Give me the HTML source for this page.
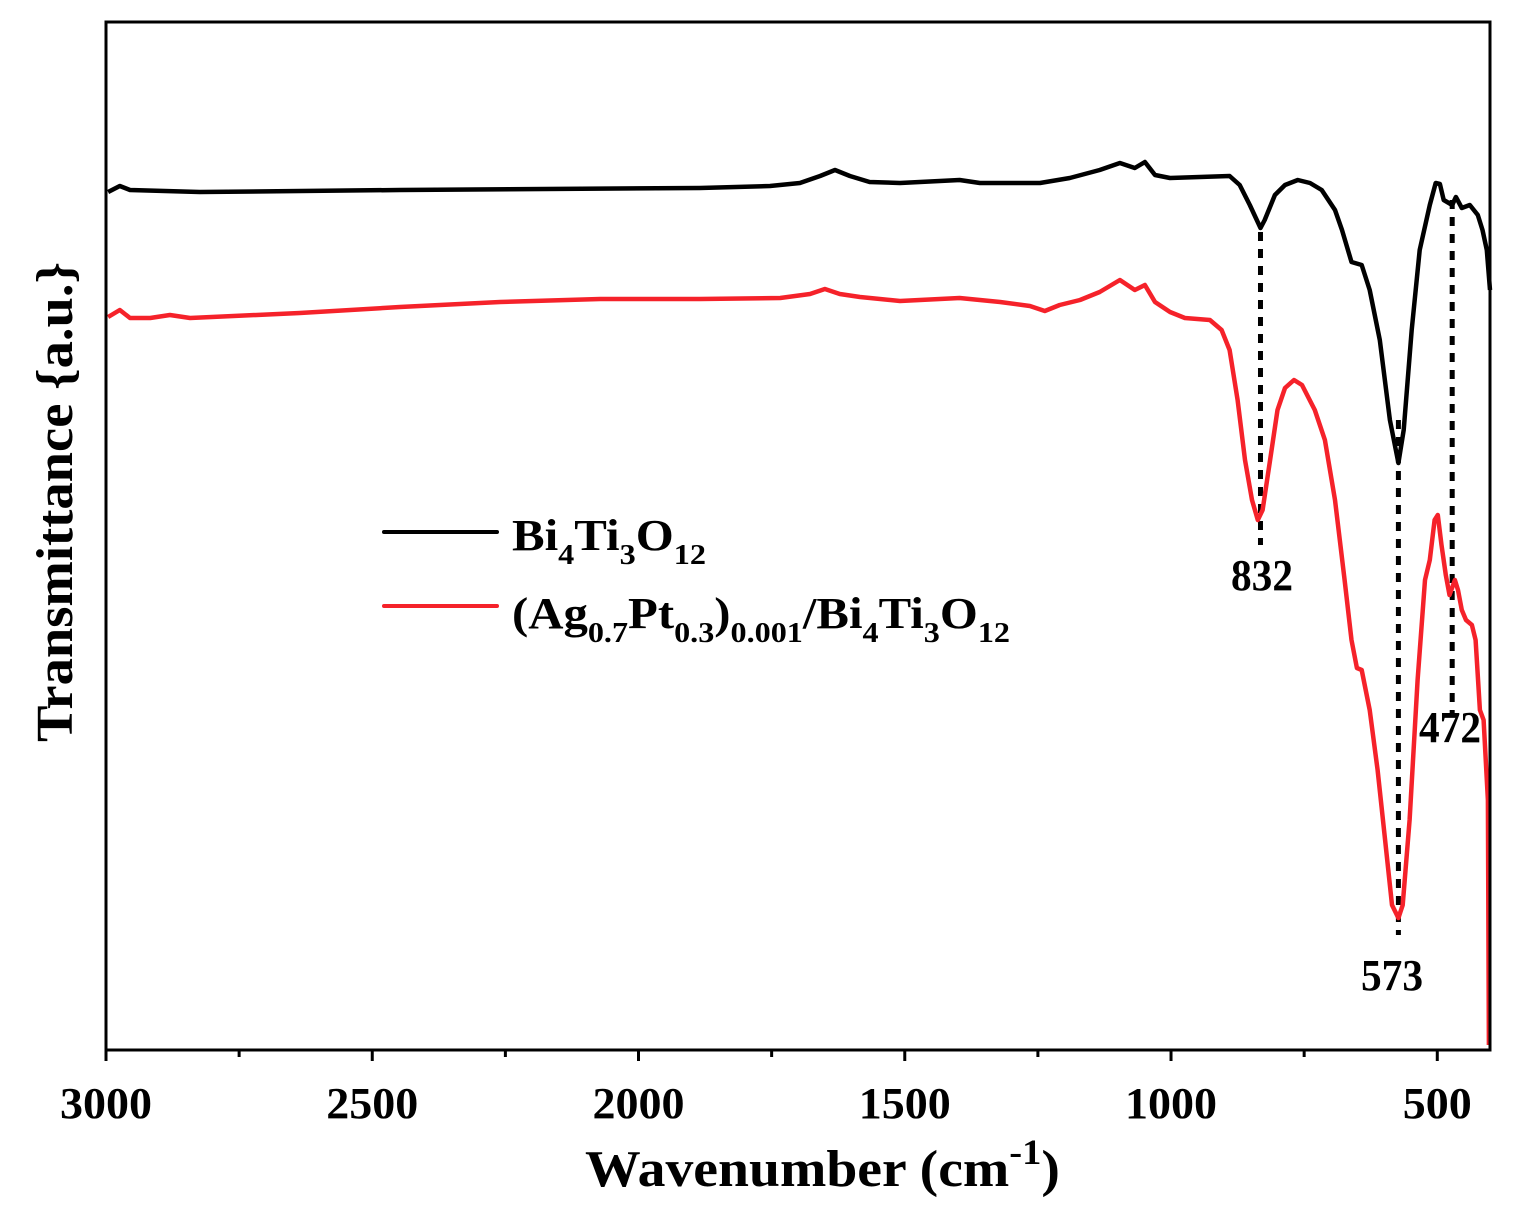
<!DOCTYPE html>
<html><head><meta charset="utf-8"><style>
html,body{margin:0;padding:0;background:#fff;}
svg{display:block;font-family:"Liberation Serif",serif;font-weight:bold;}
</style></head><body>
<svg id="chart" width="1513" height="1216" viewBox="0 0 1513 1216">
<rect x="0" y="0" width="1513" height="1216" fill="#fff"/>
<g id="plot"></g>
<g id="axes"></g>
<g>
 <line x1="384" y1="532" x2="497" y2="532" stroke="#000" stroke-width="4" stroke-linecap="round"/>
 <text x="512" y="550" font-size="44" textLength="194" lengthAdjust="spacingAndGlyphs">Bi<tspan font-size="29" dy="14">4</tspan><tspan dy="-14">Ti</tspan><tspan font-size="29" dy="14">3</tspan><tspan dy="-14">O</tspan><tspan font-size="29" dy="14">12</tspan></text>
 <line x1="384" y1="606" x2="497" y2="606" stroke="#f5222a" stroke-width="4" stroke-linecap="round"/>
 <text x="512" y="628" font-size="44" textLength="498" lengthAdjust="spacingAndGlyphs">(Ag<tspan font-size="29" dy="14">0.7</tspan><tspan dy="-14">Pt</tspan><tspan font-size="29" dy="14">0.3</tspan><tspan dy="-14">)</tspan><tspan font-size="29" dy="14">0.001</tspan><tspan dy="-14">/Bi</tspan><tspan font-size="29" dy="14">4</tspan><tspan dy="-14">Ti</tspan><tspan font-size="29" dy="14">3</tspan><tspan dy="-14">O</tspan><tspan font-size="29" dy="14">12</tspan></text>
</g>
<text x="585" y="1186" font-size="52" textLength="475" lengthAdjust="spacingAndGlyphs">Wavenumber (cm<tspan font-size="36" dy="-22">-1</tspan><tspan dy="22">)</tspan></text>
<text transform="translate(72,742) rotate(-90)" font-size="52" textLength="480" lengthAdjust="spacingAndGlyphs">Transmittance {a.u.}</text>
<script>
const xTicks=[3000,2500,2000,1500,1000,500];
const xMinor=[2750,2250,1750,1250,750];
const bW=[2996,2974,2955,2824,2448,1885,1753,1697,1659,1631,1603,1566,1509,1397,1359,1246,1190,1134,1096,1068,1049,1030,1002,946,890,871,852,832,824,805,786,762,739,717,692,679,661,642,627,608,589,573,563,548,533,514,503,495,488,472,465,454,439,424,415,407,401];
const bT=[858,864,860,858,860,862,864,867,874,880,874,868,867,870,867,867,872,880,887,882,888,875,872,873,874,865,845,822,830,855,865,870,867,860,840,820,788,785,760,710,630,587,620,720,800,845,867,866,850,845,853,842,845,835,820,800,760];
const rW=[2996,2974,2955,2917,2880,2842,2636,2448,2260,2072,1885,1734,1678,1650,1622,1584,1509,1397,1321,1265,1237,1209,1171,1134,1096,1068,1049,1030,1002,974,927,905,890,875,861,848,837,828,814,800,786,769,754,730,711,692,674,661,651,642,627,612,598,585,573,565,552,537,523,514,505,499,492,484,477,467,461,454,446,435,428,420,413,405,403];
const rT=[733,740,732,732,735,732,737,743,748,751,751,752,756,761,756,753,749,752,748,744,739,745,750,758,770,760,765,748,738,732,730,720,700,650,590,550,530,540,590,640,662,670,665,640,610,550,470,410,382,380,340,280,210,145,132,145,230,370,470,490,530,535,505,475,455,470,460,440,430,425,410,340,330,250,5];
const peaks=[832,573,472];
const peakTop=[818,630,850];
const peakBot=[505,115,335];
const x0=3000,x1=401,PL=106,PR=1490,PT=22,PB=1050;
function X(w){return PL+(x0-w)/(x0-x1)*(PR-PL);}
function Y(v){return PB-v;}
const NS="http://www.w3.org/2000/svg";
const plot=document.getElementById('plot'),axes=document.getElementById('axes');
function mk(tag,attrs,parent){const e=document.createElementNS(NS,tag);for(const k in attrs)e.setAttribute(k,attrs[k]);parent.appendChild(e);return e;}
peaks.forEach((p,i)=>{
 const l=mk('line',{x1:X(p),x2:X(p),y1:Y(peakTop[i]),y2:Y(peakBot[i]),stroke:'#000','stroke-width':5,'stroke-dasharray':'9 8'},plot);
 
 
});
function path(ws,ts,color,name){
 let d='';ws.forEach((w,i)=>{d+=(i?'L':'M')+X(w).toFixed(1)+','+Y(ts[i]).toFixed(1);});
 const p=mk('path',{d:d,fill:'none',stroke:color,'stroke-width':4.5,'stroke-linejoin':'round'},plot);
 
 
}
path(bW,bT,'#000','series-bto');
path(rW,rT,'#f5222a','series-agpt-bto');
const labelPos=[[1262,590],[1392,990],[1450,742]];
peaks.forEach((p,i)=>{
 const t=mk('text',{x:labelPos[i][0],y:labelPos[i][1],'font-size':44,'text-anchor':'middle',textLength:62,lengthAdjust:'spacingAndGlyphs'},plot);
 t.textContent=p;
 
 
});
const fr=mk('rect',{x:PL,y:PT,width:PR-PL,height:PB-PT,fill:'none',stroke:'#000','stroke-width':3},axes);


xTicks.forEach(v=>{
 const l=mk('line',{x1:X(v),x2:X(v),y1:PB,y2:PB+11,stroke:'#000','stroke-width':3},axes);
 
 
 const s=String(v);
 const t=mk('text',{x:X(v),y:1118,'font-size':44,'text-anchor':'middle',textLength:23*s.length,lengthAdjust:'spacingAndGlyphs'},axes);
 t.textContent=s;
 
 
});
xMinor.forEach(v=>{
 const l=mk('line',{x1:X(v),x2:X(v),y1:PB,y2:PB+7,stroke:'#000','stroke-width':3},axes);
 
 
});
</script>
</svg>
</body></html>
